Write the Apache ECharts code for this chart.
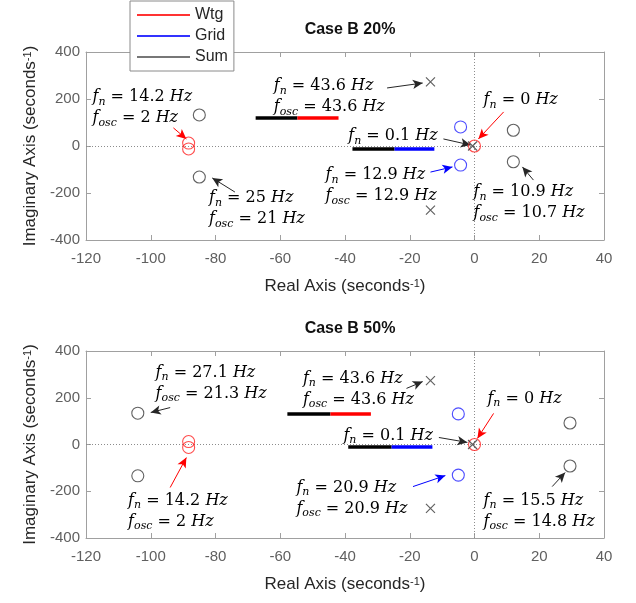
<!DOCTYPE html>
<html>
<head>
<meta charset="utf-8">
<script src="https://cdn.jsdelivr.net/npm/echarts@6/dist/echarts.min.js"></script>
<style>
  html, body { margin: 0; padding: 0; background: #fff; }
  #chart { width: 636px; height: 603px; }
</style>
</head>
<body>
<div id="chart"></div>
<script>
// Pole-zero maps (real vs imaginary part, s^-1) for two cases.
const panelTitles = ['Case B 20%', 'Case B 50%'];
const seriesNames = ['Wtg', 'Grid', 'Sum'];
const xTickValues = [-120, -100, -80, -60, -40, -20, 0, 20, 40];
const yTickValues = [-400, -200, 0, 200, 400];

// Case B 20%
const wtgZeros20 = [[-88.3, 12.6], [-88.3, -12.6], [0, 0]];
const gridZeros20 = [[-4.3, 81], [-4.3, -81]];
const sumZeros20 = [[-85, 132], [-85, -132], [12, 67], [12, -67]];
const sumPoles20 = [[-13.6, 273], [-13.6, -273], [-0.6, 0]];

// Case B 50%
const wtgZeros50 = [[-88.3, 12.6], [-88.3, -12.6], [0, 0]];
const gridZeros50 = [[-5, 131], [-5, -131]];
const sumZeros50 = [[-104, 134], [-104, -134], [29.5, 92], [29.5, -92]];
const sumPoles50 = [[-13.6, 273], [-13.6, -273], [-0.6, 0]];

// Natural / oscillation frequencies quoted in the callouts (Hz)
const notes20 = [
  { who: 'Wtg', fn: '14.2', fosc: '2' },
  { who: 'Wtg', fn: '43.6', fosc: '43.6' },
  { who: 'Wtg', fn: '0' },
  { who: 'Grid', fn: '0.1' },
  { who: 'Grid', fn: '12.9', fosc: '12.9' },
  { who: 'Sum', fn: '10.9', fosc: '10.7' },
  { who: 'Sum', fn: '25', fosc: '21' }
];
const notes50 = [
  { who: 'Sum', fn: '27.1', fosc: '21.3' },
  { who: 'Wtg', fn: '43.6', fosc: '43.6' },
  { who: 'Wtg', fn: '0' },
  { who: 'Grid', fn: '0.1' },
  { who: 'Grid', fn: '20.9', fosc: '20.9' },
  { who: 'Sum', fn: '15.5', fosc: '14.8' },
  { who: 'Wtg', fn: '14.2', fosc: '2' }
];

// Callout placement (data units: left edge, centre of first line)
const noteAt = [
  [[-118, 208], [-62, 255], [2.8, 196], [-39, 43], [-46, -123], [-0.3, -196], [-82, -221]],
  [[-98.5, 308], [-53, 282], [4, 197], [-40.5, 38], [-55, -184], [2.8, -240], [-107, -240]]
];
// Arrows: [from, to, who]
const arrows = [
  [[[-93, 77], [-89, 30], 'Wtg'], [[-27, 247], [-16, 268], 'Sum'], [[9, 145], [1.2, 30], 'Wtg'],
   [[-9.6, 30], [-1.2, 4], 'Sum'], [[-13.6, -111], [-6.8, -89], 'Grid'], [[18.2, -145], [14.8, -89], 'Sum'],
   [[-74, -196], [-81, -136], 'Sum']],
  [[[-94, 158], [-100, 137], 'Sum'], [[-21, 240], [-16, 269], 'Sum'], [[5.9, 133], [0.9, 26], 'Wtg'],
   [[-11, 30], [-2.2, 9], 'Sum'], [[-19, -180], [-9, -133], 'Grid'], [[24, -180], [28, -120], 'Sum'],
   [[-94, -184], [-89, -56], 'Wtg']]
];
// Thick two-tone bars under the overlapping-mode callouts: [x0, x1, y, who]
const bars = [
  [[-67.6, -54.7, 119, 'Sum'], [-54.7, -42, 119, 'Wtg'], [-37.7, -24.7, -13, 'Sum'], [-24.7, -12.4, -13, 'Grid']],
  [[-57.8, -44.5, 133, 'Sum'], [-44.5, -32, 133, 'Wtg'], [-39, -25.6, -8.5, 'Sum'], [-25.6, -13, -8.5, 'Grid']]
];

const colors = { Wtg: '#ff0000', Grid: '#0000ff', Sum: '#262626' };
const markColors = { Wtg: '#ff2020', Grid: '#2020ff', Sum: '#3a3a3a' };
const axisGray = '#a0a0a0';
const labelGray = '#606060';
const sansFont = 'Liberation Sans, Arial, sans-serif';
const mathFont = 'DejaVu Serif, serif';

const chart = echarts.init(document.getElementById('chart'), null, { renderer: 'canvas' });

const grids = [
  { left: 86, right: 32, top: 52, height: 188 },
  { left: 86, right: 32, top: 351, height: 187 }
];

const nameRich = {
  a: { fontFamily: sansFont, fontSize: 17, color: '#262626' },
  sup: { fontFamily: sansFont, fontSize: 11, color: '#262626', verticalAlign: 'top', lineHeight: 10 }
};

function xAxis(grid, pos, main) {
  return {
    type: 'value', gridIndex: grid, position: pos,
    min: xTickValues[0], max: xTickValues[xTickValues.length - 1], interval: 20,
    axisLine: { show: true, onZero: false, lineStyle: { color: axisGray, width: 1 } },
    axisTick: { show: true, inside: true, length: 5, lineStyle: { color: axisGray } },
    axisLabel: { show: main, margin: 11, fontFamily: sansFont, fontSize: 15, color: labelGray },
    splitLine: { show: false },
    name: main ? '{a|Real Axis (seconds}{sup|-1}{a|)}' : '',
    nameLocation: 'middle', nameGap: 38,
    nameTextStyle: { rich: nameRich }
  };
}
function yAxis(grid, pos, main) {
  return {
    type: 'value', gridIndex: grid, position: pos,
    min: yTickValues[0], max: yTickValues[yTickValues.length - 1], interval: 200,
    axisLine: { show: true, onZero: false, lineStyle: { color: axisGray, width: 1 } },
    axisTick: { show: true, inside: true, length: 5, lineStyle: { color: axisGray } },
    axisLabel: { show: main, margin: 6, fontFamily: sansFont, fontSize: 15, color: labelGray },
    splitLine: { show: false },
    name: main ? '{a|Imaginary Axis (seconds}{sup|-1}{a|)}' : '',
    nameLocation: 'middle', nameGap: 44,
    nameTextStyle: { rich: nameRich }
  };
}

const crossPath = 'path://M0,0L10,10M10,0L0,10';

function markerSeries(name, data, g, cross) {
  return {
    type: 'scatter', name, data,
    xAxisIndex: g * 2, yAxisIndex: g * 2,
    symbol: cross ? crossPath : 'circle',
    symbolSize: cross ? 9 : 12,
    itemStyle: { color: 'rgba(0,0,0,0)', borderColor: markColors[name], borderWidth: cross ? 1.2 : 1.1 },
    z: 5
  };
}

function overlaySeries(g) {
  const arrowData = arrows[g].map(([a, b, who]) => [
    { coord: a, lineStyle: { color: colors[who], width: 1, type: 'solid' }, itemStyle: { color: colors[who] } },
    { coord: b }
  ]);
  const barData = bars[g].map(([x0, x1, y, who]) => [
    { coord: [x0, y], lineStyle: { color: who === 'Sum' ? '#000' : colors[who], width: 3.5, type: 'solid' } },
    { coord: [x1, y] }
  ]);
  return [
    {
      type: 'scatter', data: [], xAxisIndex: g * 2, yAxisIndex: g * 2, z: 1,
      markLine: {
        silent: true, symbol: 'none', animation: false,
        label: { show: false },
        lineStyle: { color: '#8c8c8c', type: [1, 2], width: 1 },
        data: [{ xAxis: 0 }, { yAxis: 0 }]
      }
    },
    {
      type: 'scatter', data: [], xAxisIndex: g * 2, yAxisIndex: g * 2, z: 6,
      markLine: {
        silent: true, symbol: ['none', 'arrow'], symbolSize: [7, 10], animation: false,
        label: { show: false },
        lineStyle: { type: 'solid', width: 1 },
        data: arrowData
      }
    },
    {
      type: 'scatter', data: [], xAxisIndex: g * 2, yAxisIndex: g * 2, z: 4,
      markLine: {
        silent: true, symbol: 'none', animation: false,
        label: { show: false },
        lineStyle: { type: 'solid' },
        data: barData
      }
    }
  ];
}

const series = [
  markerSeries('Wtg', wtgZeros20, 0, false),
  markerSeries('Grid', gridZeros20, 0, false),
  markerSeries('Sum', sumZeros20, 0, false),
  markerSeries('Sum', sumPoles20, 0, true),
  ...overlaySeries(0),
  markerSeries('Wtg', wtgZeros50, 1, false),
  markerSeries('Grid', gridZeros50, 1, false),
  markerSeries('Sum', sumZeros50, 1, false),
  markerSeries('Sum', sumPoles50, 1, true),
  ...overlaySeries(1)
];

chart.setOption({
  animation: false,
  backgroundColor: '#fff',
  title: panelTitles.map((t, i) => ({
    text: t, left: 345, textAlign: 'center', top: i === 0 ? 17 : 316,
    textStyle: { fontFamily: sansFont, fontSize: 16, fontWeight: 'bold', color: '#111' }
  })),
  legend: {
    orient: 'vertical', left: 130, top: 1,
    backgroundColor: '#fff', borderColor: '#8a8a8a', borderWidth: 1,
    padding: [6, 6, 6, 7], itemGap: 5, itemWidth: 53, itemHeight: 2,
    icon: 'rect',
    textStyle: { fontFamily: sansFont, fontSize: 16, color: '#262626', padding: [0, 0, 0, 0] },
    data: seriesNames.map(n => ({ name: n, icon: 'rect', itemStyle: { color: n === 'Sum' ? '#555' : colors[n], borderWidth: 0 } })),
    z: 20
  },
  grid: grids,
  xAxis: [xAxis(0, 'bottom', true), xAxis(0, 'top', false), xAxis(1, 'bottom', true), xAxis(1, 'top', false)],
  yAxis: [yAxis(0, 'left', true), yAxis(0, 'right', false), yAxis(1, 'left', true), yAxis(1, 'right', false)],
  series
});

// Callout text with math-style subscripts
function richFor(color) {
  return {
    i: { fontFamily: mathFont, fontStyle: 'italic', fontSize: 16, color, lineHeight: 21 },
    r: { fontFamily: mathFont, fontSize: 16, color, lineHeight: 21 },
    s: { fontFamily: mathFont, fontStyle: 'italic', fontSize: 11, color, verticalAlign: 'bottom', lineHeight: 12 }
  };
}
function calloutText(n) {
  const l1 = '{i|f}{s|n}{r| = ' + n.fn + ' }{i|Hz}';
  if (n.fosc === undefined) return l1;
  return l1 + '\n{i|f}{s|osc}{r| = ' + n.fosc + ' }{i|Hz}';
}

const graphics = [];
[notes20, notes50].forEach((notes, g) => {
  notes.forEach((n, k) => {
    const p = chart.convertToPixel({ xAxisIndex: g * 2, yAxisIndex: g * 2 }, noteAt[g][k]);
    graphics.push({
      type: 'text', x: p[0], y: p[1] - 10.5, z: 10,
      style: {
        text: calloutText(n), rich: richFor(colors[n.who]),
        textAlign: 'left', textVerticalAlign: 'top'
      }
    });
  });
});
chart.setOption({ graphic: graphics });
</script>
</body>
</html>
